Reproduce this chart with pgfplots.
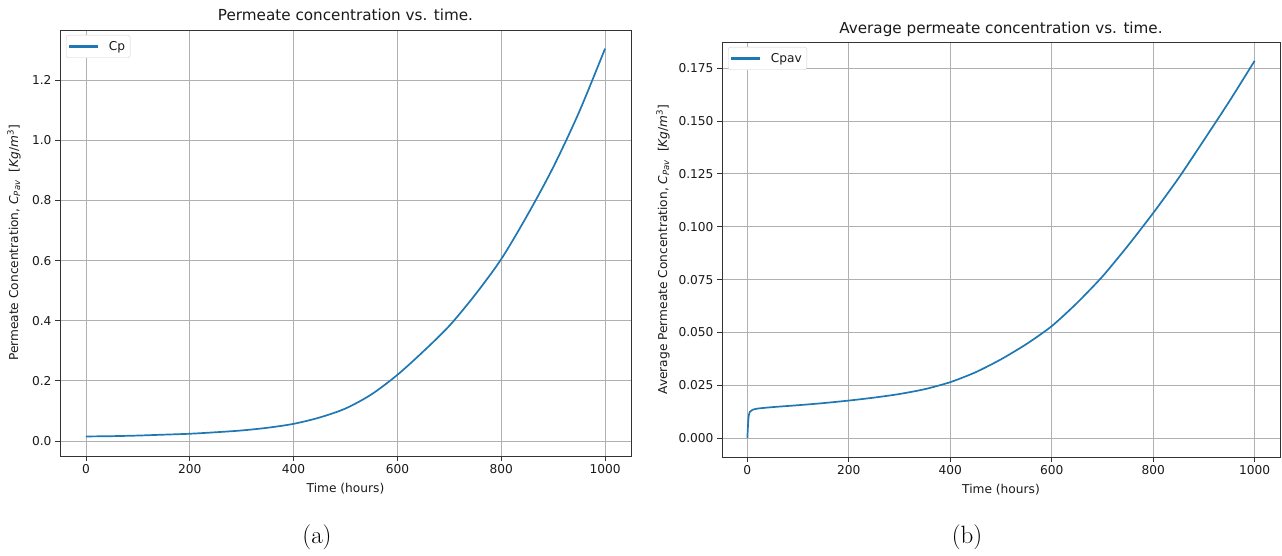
\documentclass[border=0pt]{standalone}
\usepackage{fontspec}
\newfontfamily\dejavu{DejaVu Sans}
\usepackage{pgfplots}
\pgfplotsset{compat=1.18}
\definecolor{mplblue}{HTML}{1F77B4}

\pgfplotstableread{
x y
0 0.015
50 0.016
100 0.018
150 0.021
200 0.024
250 0.029
300 0.035
350 0.044
400 0.057
450 0.078
500 0.108
550 0.155
600 0.220
650 0.298
700 0.383
750 0.487
800 0.605
850 0.750
900 0.910
950 1.094
1000 1.305
}\cpdata

\pgfplotstableread{
x y
0 0.0
1 0.005
2 0.009
3 0.011
5 0.0125
10 0.0134
20 0.0140
50 0.0147
100 0.0156
150 0.0166
200 0.0178
250 0.0192
300 0.0209
350 0.0232
400 0.0265
450 0.0312
500 0.0373
550 0.0445
600 0.0530
650 0.0640
700 0.0765
750 0.0910
800 0.1065
850 0.1230
900 0.1410
950 0.1593
1000 0.1785
}\cpavdata

\newcommand{\tickfont}{\dejavu\fontsize{12.2}{14}\selectfont}
\newcommand{\titlefont}{\dejavu\fontsize{15.2}{18}\selectfont}

\pgfplotsset{
  mplstyle/.style={
    scale only axis,
    axis line style={draw=black!80, line width=0.9pt},
    grid=major,
    major grid style={draw=black!31, line width=0.9pt},
    tick align=outside,
    xtick pos=bottom, ytick pos=left,
    major tick length=5pt,
    tick style={draw=black!80, line width=0.9pt},
    xmin=-50, xmax=1050,
    xtick={0,200,400,600,800,1000},
    /pgf/number format/assume math mode=true,
    /pgf/number format/1000 sep={},
    tick label style={font=\tickfont, text=black!90},
    every axis x label/.style={at={(0.5,0)}, anchor=center, yshift=-33pt, font=\tickfont, text=black!90},
    xlabel={Time (hours)},
    legend cell align=left,
    legend style={font=\tickfont, text=black!90, draw=black!18, rounded corners=2.5pt,
      fill=white, at={(0,1)}, anchor=north west, xshift=6pt, yshift=-5pt,
      inner xsep=3pt, inner ysep=4pt,
      /tikz/every odd column/.append style={column sep=9pt}},
  }
}

\begin{document}
\begin{tikzpicture}
\useasboundingbox (0pt,0pt) rectangle (1282pt,555pt);

\begin{axis}[mplstyle,
  at={(60pt,99pt)}, anchor=south west,
  width=571pt, height=426pt,
  ymin=-0.05, ymax=1.367,
  ytick={0,0.2,0.4,0.6,0.8,1.0,1.2},
  yticklabel style={/pgf/number format/.cd, fixed, fixed zerofill, precision=1},
  every axis y label/.style={at={(0,0.5)}, rotate=90, anchor=center, yshift=46pt, font=\tickfont, text=black!90},
  ylabel={Permeate Concentration, \textit{C}\textsubscript{\textit{Pav}}\ \ [\textit{Kg}/\textit{m}\textsuperscript{3}]},
  every axis title/.style={at={(0.5,1)}, anchor=center, yshift=15pt, font=\titlefont, text=black!90},
  title={Permeate concentration vs. time.},
]
\addplot[mplblue, line width=1.7pt, smooth,
  legend image code/.code={\fill[mplblue, rounded corners=0pt] (0pt,-0.9pt) rectangle (27pt,0.9pt);}] table[x=x,y=y] {\cpdata};
\addlegendentry{Cp}
\end{axis}

\begin{axis}[mplstyle,
  at={(722pt,98pt)}, anchor=south west,
  width=558pt, height=415pt,
  ymin=-0.0089, ymax=0.1874,
  ytick={0,0.025,0.05,0.075,0.1,0.125,0.15,0.175},
  yticklabel style={/pgf/number format/.cd, fixed, fixed zerofill, precision=3},
  every axis y label/.style={at={(0,0.5)}, rotate=90, anchor=center, yshift=59pt, font=\tickfont, text=black!90},
  ylabel={Average Permeate Concentration, \textit{C}\textsubscript{\textit{Pav}}\ \ [\textit{Kg}/\textit{m}\textsuperscript{3}]},
  every axis title/.style={at={(0.5,1)}, anchor=center, yshift=13pt, font=\titlefont, text=black!90},
  title={Average permeate concentration vs. time.},
]
\addplot[mplblue, line width=1.7pt, smooth, tension=0.4,
  legend image code/.code={\fill[mplblue, rounded corners=0pt] (0pt,-0.9pt) rectangle (27pt,0.9pt);}] table[x=x,y=y] {\cpavdata};
\addlegendentry{Cpav}
\end{axis}

\node[font=\fontsize{25}{28}\selectfont] at (317pt,17.5pt) {(a)};
\node[font=\fontsize{25}{28}\selectfont] at (967pt,17.5pt) {(b)};
\end{tikzpicture}
\end{document}
